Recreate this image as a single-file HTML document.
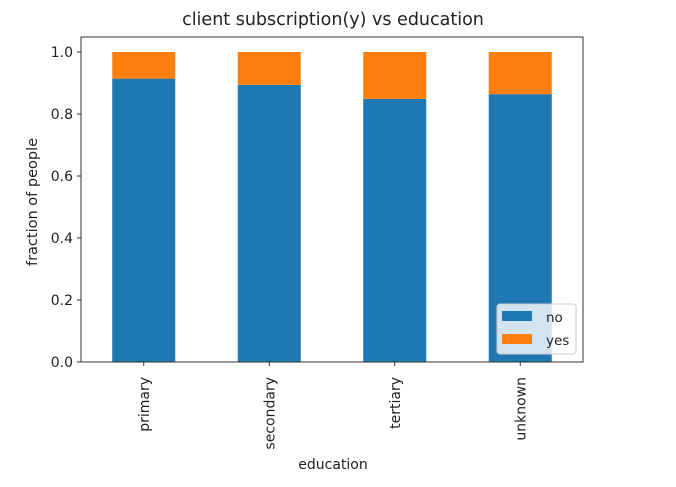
<!DOCTYPE html>
<html><head><meta charset="utf-8"><style>
body{margin:0;background:#fff;font-family:"Liberation Sans","DejaVu Sans",sans-serif;}
svg text{font-family:"DejaVu Sans","Liberation Sans",sans-serif;}
</style></head><body>
<svg id="chart" width="676" height="482" viewBox="0 0 676 482">
<rect width="676" height="482" fill="#fff"/>
<text x="333" y="25" font-size="17.5" text-anchor="middle" fill="#222">client subscription(y) vs education</text>
<g id="marks"></g>
<rect x="81" y="37" width="502" height="325" fill="none" stroke="#333" stroke-width="1"/>
<g id="axes"></g>
<text x="333" y="469" font-size="14" text-anchor="middle" fill="#222">education</text>
<text transform="translate(37,202) rotate(-90)" font-size="14.5" text-anchor="middle" fill="#222">fraction of people</text>
<g>
<rect x="497" y="304" width="79" height="50" rx="3" fill="#fff" fill-opacity="0.8" stroke="#ccc"/>
<rect x="502" y="311" width="30" height="10" fill="#1f77b4"/>
<text x="546" y="322" font-size="13.5" fill="#222">no</text>
<rect x="502" y="334" width="30" height="10" fill="#ff7f0e"/>
<text x="546" y="345" font-size="13.5" fill="#222">yes</text>
</g>
</svg>
<script>
const categories=["primary","secondary","tertiary","unknown"];
const noValues=[0.914,0.894,0.849,0.864];
const yesValues=[0.086,0.106,0.151,0.136];
const yTicks=[0.0,0.2,0.4,0.6,0.8,1.0];
const NS="http://www.w3.org/2000/svg";
const x0=81,x1=583,y0=362,y1=52;
function yScale(v){return y0-(y0-y1)*v;}
function xCenter(i){return x0+(x1-x0)*(i+0.5)/categories.length;}
const bw=63;
const marks=document.getElementById('marks'),axes=document.getElementById('axes');
function mk(t,a,p){const e=document.createElementNS(NS,t);for(const k in a)e.setAttribute(k,a[k]);p.appendChild(e);return e;}
categories.forEach((c,i)=>{
 const cx=xCenter(i);
 const b=mk('rect',{x:cx-bw/2,y:yScale(noValues[i]),width:bw,height:yScale(0)-yScale(noValues[i]),fill:'#1f77b4'},marks);
 
 
 const t=noValues[i]+yesValues[i];
 const o=mk('rect',{x:cx-bw/2,y:yScale(t),width:bw,height:yScale(noValues[i])-yScale(t),fill:'#ff7f0e'},marks);
 
 
 mk('line',{x1:cx,x2:cx,y1:y0,y2:y0+4,stroke:'#333'},axes);
 const l=mk('text',{transform:`translate(${cx+5},${y0+15}) rotate(-90)`,'font-size':14,'text-anchor':'end',fill:'#222'},axes);
 l.textContent=c;
 
 
});
yTicks.forEach(v=>{
 const y=yScale(v);
 mk('line',{x1:x0-4,x2:x0,y1:y,y2:y,stroke:'#333'},axes);
 const l=mk('text',{x:x0-8,y:y+5,'font-size':14,'text-anchor':'end',fill:'#222'},axes);
 l.textContent=v.toFixed(1);
 
 
});
</script>
</body></html>
